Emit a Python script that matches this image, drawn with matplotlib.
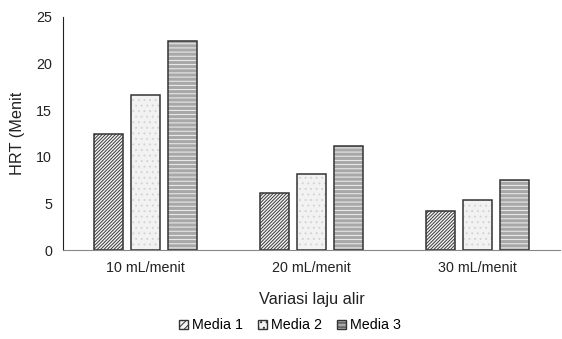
import numpy as np
import matplotlib.pyplot as plt
from matplotlib.patches import Patch

plt.rcParams['font.family'] = ['Liberation Sans', 'DejaVu Sans']
plt.rcParams['hatch.linewidth'] = 0.7

categories = ['10 mL/menit', '20 mL/menit', '30 mL/menit']
media1 = [12.4, 6.1, 4.2]
media2 = [16.6, 8.2, 5.4]
media3 = [22.4, 11.2, 7.5]
series = ['Media 1', 'Media 2', 'Media 3']

# face, hatch, hatch colour
styles = [
    ('#f4f4f4', '//////////', '#3a3a3a'),
    ('#f2f2f2', '...', '#d4d4d4'),
    ('#a8a8a8', '----', '#f0f0f0'),
]

fig = plt.figure(figsize=(5.62, 3.39), dpi=100)
ax = fig.add_axes([63 / 562, 1 - 250 / 339, 497 / 562, 233 / 339])

x = np.arange(len(categories))
width = 0.175
step = 0.223
for i, vals in enumerate([media1, media2, media3]):
    face, hatch, hcol = styles[i]
    pos = x + (i - 1) * step
    ax.bar(pos, vals, width, color=face, hatch=hatch, edgecolor=hcol, linewidth=0)
    ax.bar(pos, vals, width, fill=False, edgecolor='#333333', linewidth=1.1)

ax.set_xlim(-0.5, 2.5)
ax.set_ylim(0, 25)
ax.set_yticks([0, 5, 10, 15, 20, 25])
ax.set_xticks(x)
ax.set_xticklabels(categories)
ax.tick_params(length=0, labelsize=10.3, colors='#222222', pad=8)
ax.tick_params(axis='y', pad=8)

for s in ['top', 'right']:
    ax.spines[s].set_visible(False)
ax.spines['left'].set_color('#222222')
ax.spines['bottom'].set_color('#888888')

ax.set_xlabel('Variasi laju alir', fontsize=11.7, color='#222222', labelpad=12)
ax.set_ylabel('HRT (Menit', fontsize=11.7, color='#222222')
ax.yaxis.set_label_coords(-38 / 497, 0.5)

handles = []
for i, name in enumerate(series):
    face, hatch, hcol = styles[i]
    handles.append(Patch(facecolor=face, hatch=hatch[:5], edgecolor='#333333', label=name))
fig.legend(handles=handles, loc='center', bbox_to_anchor=(0.516, 0.04), ncol=3,
           frameon=False, fontsize=10.3, handlelength=0.65, handleheight=0.65,
           handletextpad=0.3, columnspacing=1.0)

fig.savefig('out.png', dpi=100)
